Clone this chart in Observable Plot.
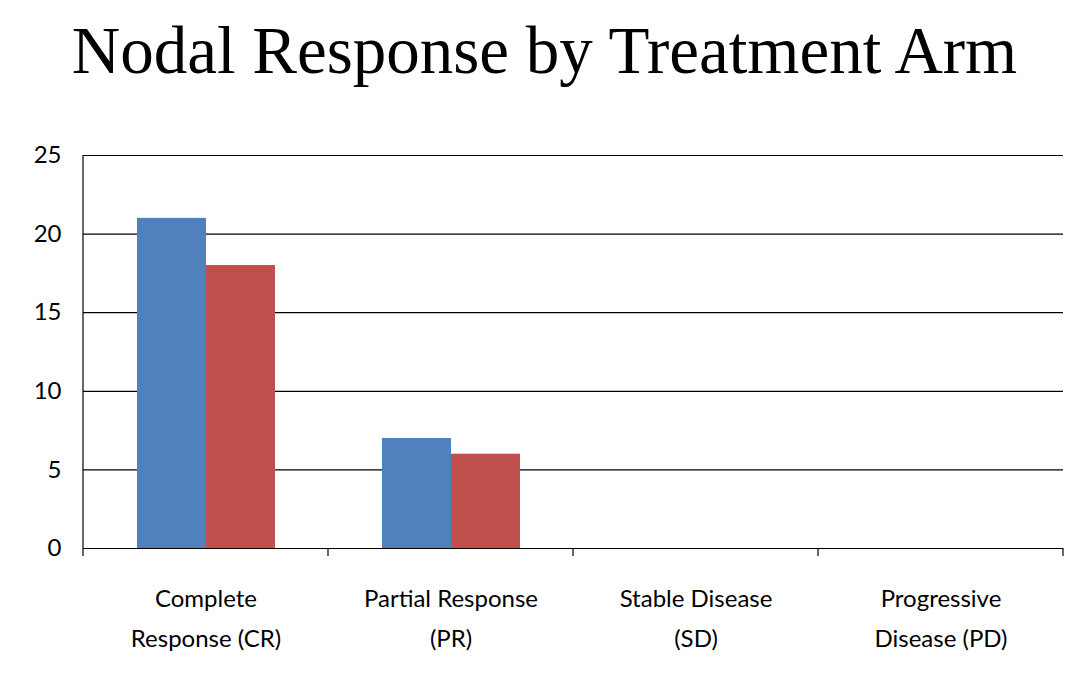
<!DOCTYPE html>
<html><head><meta charset="utf-8">
<script src="https://cdn.jsdelivr.net/npm/d3@7"></script>
<script src="https://cdn.jsdelivr.net/npm/@observablehq/plot@0.6"></script>
<style>
body{margin:0;background:#fff;}
#title{height:100px;font-family:"Liberation Serif",serif;font-size:67px;text-align:center;line-height:100px;color:#000;}
</style></head><body>
<div id="title">Nodal Response by Treatment Arm</div>
<div id="chart"></div>
<script>
const categories = ["Complete\nResponse (CR)","Partial Response\n(PR)","Stable Disease\n(SD)","Progressive\nDisease (PD)"];
const series = ["Arm A","Arm B"];
const armA = [21,7,0,0];
const armB = [18,6,0,0];
const colors = ["#4F81BD","#C0504D"];
const yTicks = [0,5,10,15,20,25];

const data = [];
categories.forEach((c,i)=>{data.push({cat:c,arm:series[0],v:armA[i]});data.push({cat:c,arm:series[1],v:armB[i]});});

const chart = Plot.plot({
  width:1089, height:587,
  marginTop:55, marginBottom:139, marginLeft:83, marginRight:26,
  style:{fontFamily:"Lato, sans-serif", fontSize:"24px", color:"#000"},
  fx:{domain:categories, padding:0, label:null, axis:null},
  x:{domain:series, paddingInner:0, paddingOuter:0.76, axis:null},
  y:{domain:[0,25], ticks:yTicks, label:null},
  color:{domain:series, range:colors},
  marks:[
    Plot.gridY(yTicks,{stroke:"#000", strokeOpacity:1, strokeWidth:1.2}),
    Plot.axisY(yTicks,{tickSize:0, tickPadding:22, fontSize:24, label:null}),
    Plot.axisFx({anchor:"bottom", tickSize:0, tickPadding:30, lineHeight:1.67, fontSize:24, label:null}),
    Plot.barY(data,{fx:"cat", x:"arm", y:"v", fill:"arm"}),
    Plot.ruleY([0],{stroke:"#000", strokeWidth:1.2})
  ]
});
document.getElementById("chart").appendChild(chart);
const fx = chart.scale("fx");
const y = chart.scale("y");
const svg = d3.select(chart);
const y0 = y.apply(0), y1 = y.apply(25);
const left = fx.apply(categories[0]);
svg.append("line").attr("x1",left).attr("x2",left).attr("y1",y1).attr("y2",y0).attr("stroke","#000").attr("stroke-width",1.2);
const bounds = categories.map(c=>fx.apply(c)).concat([fx.apply(categories[categories.length-1])+fx.bandwidth]);
bounds.forEach(b=>svg.append("line").attr("x1",b).attr("x2",b).attr("y1",y0).attr("y2",y0+8).attr("stroke","#000").attr("stroke-width",1.2));
</script>
</body></html>
